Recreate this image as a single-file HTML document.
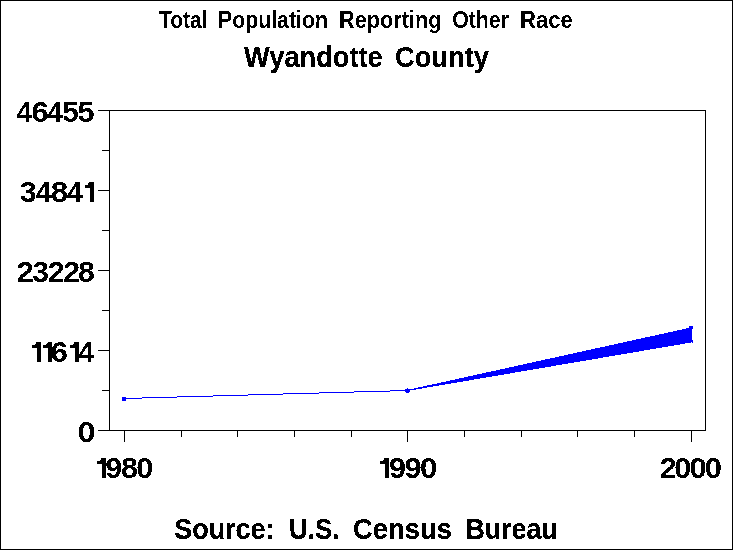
<!DOCTYPE html>
<html><head><meta charset="utf-8"><title>Total Population Reporting Other Race - Wyandotte County</title>
<style>
html,body{margin:0;padding:0;background:#fff;}
body{width:733px;height:550px;overflow:hidden;}
svg{display:block;will-change:transform;}
text{font-family:"Liberation Sans",sans-serif;font-weight:bold;fill:#000;stroke:#000;stroke-width:0.2px;stroke-linejoin:round;}
text.dg,text.t1{stroke:none;}
.ax rect{fill:#000;}
.dt rect,.dt polygon{fill:#0000ff;}
.tx path{fill:#000;}
</style></head><body>
<svg width="733" height="550" viewBox="0 0 733 550">
<defs><filter id="th" x="0" y="0" width="733" height="550" filterUnits="userSpaceOnUse" color-interpolation-filters="sRGB"><feComponentTransfer><feFuncA type="discrete" tableValues="0 1"/></feComponentTransfer></filter></defs>
<rect x="0" y="0" width="733" height="550" fill="#fff"/>
<g class="ax" shape-rendering="crispEdges">
<rect x="0" y="0" width="733" height="1"/>
<rect x="0" y="549" width="733" height="1"/>
<rect x="0" y="0" width="1" height="550"/>
<rect x="732" y="0" width="1" height="550"/>
<rect x="98" y="110" width="608" height="1"/>
<rect x="109" y="110" width="1" height="321"/>
<rect x="705" y="110" width="1" height="321"/>
<rect x="98" y="430" width="608" height="1"/>
<rect x="98" y="190" width="11" height="1"/>
<rect x="98" y="270" width="11" height="1"/>
<rect x="98" y="350" width="11" height="1"/>
<rect x="102" y="150" width="7" height="1"/>
<rect x="102" y="230" width="7" height="1"/>
<rect x="102" y="310" width="7" height="1"/>
<rect x="102" y="390" width="7" height="1"/>
<rect x="124" y="430" width="1" height="12"/>
<rect x="181" y="430" width="1" height="7"/>
<rect x="237" y="430" width="1" height="7"/>
<rect x="294" y="430" width="1" height="7"/>
<rect x="351" y="430" width="1" height="7"/>
<rect x="407" y="430" width="1" height="12"/>
<rect x="464" y="430" width="1" height="7"/>
<rect x="521" y="430" width="1" height="7"/>
<rect x="577" y="430" width="1" height="7"/>
<rect x="634" y="430" width="1" height="7"/>
<rect x="691" y="430" width="1" height="12"/>
</g>
<g class="dt" shape-rendering="crispEdges">
<polygon points="407,390 407,391 692,342.4 692,327.25"/>
<rect x="124" y="398" width="18" height="1"/>
<rect x="142" y="397" width="35" height="1"/>
<rect x="177" y="396" width="36" height="1"/>
<rect x="213" y="395" width="35" height="1"/>
<rect x="248" y="394" width="35" height="1"/>
<rect x="283" y="393" width="36" height="1"/>
<rect x="319" y="392" width="35" height="1"/>
<rect x="354" y="391" width="36" height="1"/>
<rect x="390" y="390" width="18" height="1"/>
<rect x="122" y="397" width="4" height="4"/>
<rect x="405" y="389" width="5" height="3"/>
<rect x="407" y="388" width="1" height="1"/>
<rect x="406" y="392" width="3" height="1"/>
<rect x="689" y="326" width="4" height="3"/>
<rect x="692" y="340" width="1" height="3"/>
</g>
<g class="tx" filter="url(#th)">
<text class="t1" x="159.00" y="28" font-size="23" textLength="48.41" lengthAdjust="spacingAndGlyphs">Total</text>
<text class="t1" x="217.98" y="28" font-size="23" textLength="110.04" lengthAdjust="spacingAndGlyphs">Population</text>
<text class="t1" x="338.98" y="28" font-size="23" textLength="102.43" lengthAdjust="spacingAndGlyphs">Reporting</text>
<text class="t1" x="452.19" y="28" font-size="23" textLength="56.81" lengthAdjust="spacingAndGlyphs">Other</text>
<text class="t1" x="519.97" y="28" font-size="23" textLength="52.73" lengthAdjust="spacingAndGlyphs">Race</text>
<text x="244.04" y="67" font-size="29" textLength="138.73" lengthAdjust="spacingAndGlyphs">Wyandotte</text>
<text x="394.99" y="67" font-size="29" textLength="94.01" lengthAdjust="spacingAndGlyphs">County</text>
<text x="174.19" y="539" font-size="29" textLength="100.41" lengthAdjust="spacingAndGlyphs">Source:</text>
<text x="288.95" y="539" font-size="29" textLength="50.64" lengthAdjust="spacingAndGlyphs">U.S.</text>
<text x="352.98" y="539" font-size="29" textLength="99.04" lengthAdjust="spacingAndGlyphs">Census</text>
<text x="465.40" y="539" font-size="29" textLength="92.25" lengthAdjust="spacingAndGlyphs">Bureau</text>
<text class="dg" transform="translate(16.57,122) scale(0.9721,1)" font-size="29.0">4</text>
<text class="dg" transform="translate(31.56,122) scale(1.0771,1)" font-size="29.0">6</text>
<text class="dg" transform="translate(47.37,122) scale(0.9721,1)" font-size="29.0">4</text>
<text class="dg" transform="translate(62.18,122) scale(1.0257,1)" font-size="29.0">5</text>
<text class="dg" transform="translate(77.55,122) scale(1.0603,1)" font-size="29.0">5</text>
<text class="dg" transform="translate(19.80,202) scale(1.0475,1)" font-size="29.0">3</text>
<text class="dg" transform="translate(35.76,202) scale(0.9914,1)" font-size="29.0">4</text>
<text class="dg" transform="translate(50.80,202) scale(1.0827,1)" font-size="29.0">8</text>
<text class="dg" transform="translate(67.06,202) scale(0.9914,1)" font-size="29.0">4</text>
<path d="M89.80,182 h4.20 v20 h-4.20 V187.90 h-5 v-3.1 h2.7 L89.60,182 Z"/>
<text class="dg" transform="translate(16.51,282) scale(1.0815,1)" font-size="29.0">2</text>
<text class="dg" transform="translate(32.21,282) scale(1.0336,1)" font-size="29.0">3</text>
<text class="dg" transform="translate(47.64,282) scale(1.0529,1)" font-size="29.0">2</text>
<text class="dg" transform="translate(62.93,282) scale(1.0672,1)" font-size="29.0">2</text>
<text class="dg" transform="translate(77.94,282) scale(1.0408,1)" font-size="29.0">8</text>
<path d="M37.00,342 h4.15 v20 h-4.15 V347.90 h-5 v-3.1 h2.7 L36.80,342 Z"/>
<path d="M48.20,342 h4.15 v20 h-4.15 V347.90 h-5 v-3.1 h2.7 L48.00,342 Z"/>
<text class="dg" transform="translate(50.77,362) scale(1.0629,1)" font-size="29.0">6</text>
<path d="M75.00,342 h4.15 v20 h-4.15 V347.90 h-5 v-3.1 h2.7 L74.80,342 Z"/>
<text class="dg" transform="translate(78.17,362) scale(0.9850,1)" font-size="29.0">4</text>
<text class="dg" transform="translate(77.42,442) scale(1.1166,1)" font-size="29.0">0</text>
<path d="M101.90,458 h4.15 v20 h-4.15 V463.90 h-5 v-3.1 h2.7 L101.70,458 Z"/>
<text class="dg" transform="translate(105.14,478) scale(1.0536,1)" font-size="29.0">9</text>
<text class="dg" transform="translate(121.04,478) scale(1.0478,1)" font-size="29.0">8</text>
<text class="dg" transform="translate(136.29,478) scale(1.0586,1)" font-size="29.0">0</text>
<path d="M384.90,458 h4.15 v20 h-4.15 V463.90 h-5 v-3.1 h2.7 L384.70,458 Z"/>
<text class="dg" transform="translate(388.94,478) scale(1.0536,1)" font-size="29.0">9</text>
<text class="dg" transform="translate(404.43,478) scale(1.0679,1)" font-size="29.0">9</text>
<text class="dg" transform="translate(419.97,478) scale(1.0731,1)" font-size="29.0">0</text>
<text class="dg" transform="translate(659.85,478) scale(1.0457,1)" font-size="29.0">2</text>
<text class="dg" transform="translate(674.29,478) scale(1.0586,1)" font-size="29.0">0</text>
<text class="dg" transform="translate(689.57,478) scale(1.0731,1)" font-size="29.0">0</text>
<text class="dg" transform="translate(704.87,478) scale(1.0731,1)" font-size="29.0">0</text>
</g>
</svg>
</body></html>
